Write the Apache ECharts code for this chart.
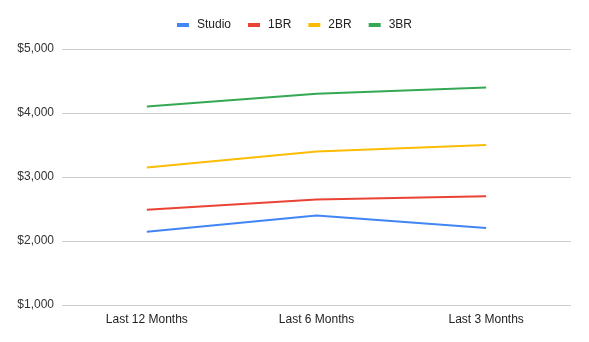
<!DOCTYPE html>
<html><head><meta charset="utf-8">
<script src="https://cdn.jsdelivr.net/npm/echarts@6/dist/echarts.min.js"></script>
<style>html,body{margin:0;padding:0;background:#fff}#c{width:589px;height:342px}</style>
</head><body><div id="c"></div>
<script>
const categories = ["Last 12 Months", "Last 6 Months", "Last 3 Months"];
const studio = [2145, 2400, 2205];
const br1 = [2490, 2650, 2700];
const br2 = [3150, 3400, 3500];
const br3 = [4100, 4300, 4400];
const seriesNames = ["Studio", "1BR", "2BR", "3BR"];
const colors = ["#4285F4", "#EA4335", "#FBBC04", "#34A853"];
const allData = [studio, br1, br2, br3];

const chart = echarts.init(document.getElementById('c'), null, {renderer: 'canvas'});
chart.setOption({
  animation: false,
  color: colors,
  textStyle: {fontFamily: 'Liberation Sans, Arial, sans-serif'},
  legend: {
    top: 14, left: 'center',
    itemWidth: 12, itemHeight: 4, itemGap: 17,
    icon: 'rect',
    textStyle: {fontSize: 12, color: '#222', padding: [0, 0, 0, 3], fontFamily: 'Liberation Sans, Arial, sans-serif'},
    data: seriesNames
  },
  grid: {left: 62, right: 18, top: 49, bottom: 37, containLabel: false},
  xAxis: {
    type: 'category', data: categories, boundaryGap: true,
    axisLine: {show: false}, axisTick: {show: false},
    axisLabel: {color: '#222', fontSize: 12, margin: 9}
  },
  yAxis: {
    type: 'value', min: 1000, max: 5000, interval: 1000,
    axisLine: {show: false}, axisTick: {show: false},
    splitLine: {lineStyle: {color: '#cccccc', width: 1}},
    axisLabel: {color: '#333', fontSize: 12, margin: 8,
      formatter: v => '$' + v.toLocaleString('en-US')}
  },
  series: allData.map((d, i) => ({
    name: seriesNames[i], type: 'line', data: d,
    symbol: 'none', lineStyle: {width: 2, color: colors[i]},
    itemStyle: {color: colors[i]}
  }))
});
</script></body></html>
